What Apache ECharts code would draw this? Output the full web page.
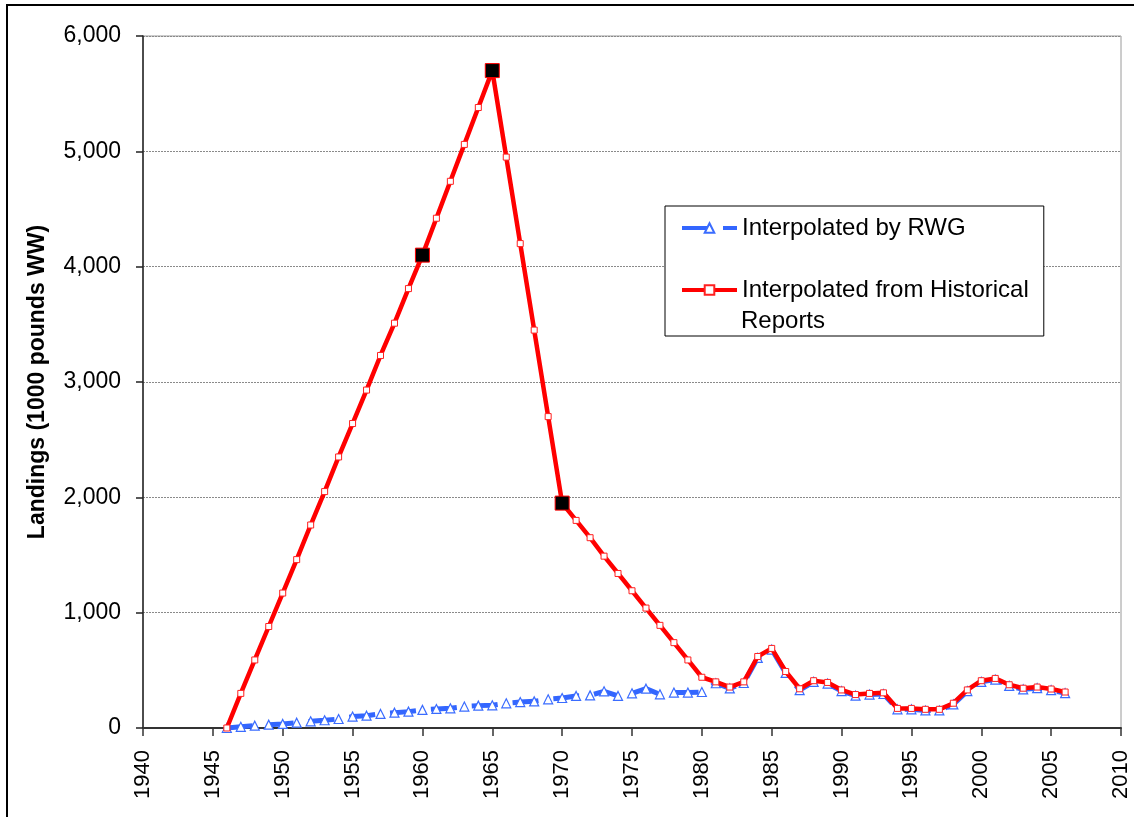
<!DOCTYPE html>
<html>
<head>
<meta charset="utf-8">
<script src="https://cdn.jsdelivr.net/npm/echarts@6/dist/echarts.min.js"></script>
<style>
  html, body { margin: 0; padding: 0; background: #fff; }
  #chart { width: 1134px; height: 817px; }
</style>
</head>
<body>
<div id="chart"></div>
<script>
// Landings by year, 1946-2006 (1000 pounds whole weight)
const years = [
  1946, 1947, 1948, 1949, 1950, 1951, 1952, 1953, 1954, 1955,
  1956, 1957, 1958, 1959, 1960, 1961, 1962, 1963, 1964, 1965,
  1966, 1967, 1968, 1969, 1970, 1971, 1972, 1973, 1974, 1975,
  1976, 1977, 1978, 1979, 1980, 1981, 1982, 1983, 1984, 1985,
  1986, 1987, 1988, 1989, 1990, 1991, 1992, 1993, 1994, 1995,
  1996, 1997, 1998, 1999, 2000, 2001, 2002, 2003, 2004, 2005,
  2006
];

const rwgValues = [
  0, 10, 20, 29, 35, 46, 58, 67, 78, 99,
  107, 122, 133, 142, 157, 165, 171, 186, 194, 197,
  214, 225, 231, 249, 260, 278, 283, 318, 278, 301,
  341, 292, 307, 307, 312, 388, 343, 390, 608, 680,
  478, 328, 400, 385, 320, 280, 290, 295, 162, 162,
  152, 152, 205, 320, 400, 420, 365, 335, 345, 328,
  302
];

const historicalValues = [
  0, 300, 590, 880, 1170, 1460, 1760, 2050, 2350, 2640,
  2930, 3230, 3510, 3810, 4100, 4420, 4740, 5060, 5380, 5700,
  4950, 4200, 3450, 2700, 1950, 1800, 1650, 1490, 1340, 1190,
  1040, 890, 740, 590, 440, 400, 355, 400, 620, 690,
  490, 340, 410, 395, 330, 290, 300, 305, 170, 170,
  162, 162, 215, 330, 410, 430, 375, 345, 355, 338,
  312
];

// Years taken directly from historical reports (anchor points)
const reportYears = [1960, 1965, 1970];

const seriesNames = ['Interpolated by RWG', 'Interpolated from Historical Reports'];

const rwgData = years.map((y, i) => [y, rwgValues[i]]);
const historicalData = years.map((y, i) => {
  if (reportYears.indexOf(y) >= 0) {
    return {
      value: [y, historicalValues[i]],
      symbolSize: 14,
      itemStyle: { color: '#000000', borderColor: '#ff0000', borderWidth: 1 }
    };
  }
  return [y, historicalValues[i]];
});

const FONT = 'Liberation Sans, Arial, sans-serif';

const chart = echarts.init(document.getElementById('chart'), null, { renderer: 'canvas' });

chart.setOption({
  animation: false,
  backgroundColor: '#ffffff',
  textStyle: { fontFamily: FONT },
  grid: {
    left: 143, right: 13, top: 36, bottom: 89,
    show: true, borderColor: '#9a9a9a', borderWidth: 1
  },
  legend: {
    orient: 'vertical',
    left: 665,
    top: 206,
    data: seriesNames,
    itemWidth: 55,
    itemHeight: 12,
    itemGap: 38,
    padding: [10, 15, 34, 15],
    borderColor: '#000000',
    borderWidth: 1,
    backgroundColor: '#ffffff',
    lineStyle: { width: 4 },
    textStyle: { fontSize: 24, color: '#000', fontFamily: FONT },
    formatter: function (name) {
      return name === seriesNames[1] ? 'Interpolated from Historical' : name;
    }
  },
  xAxis: {
    type: 'value',
    min: 1940,
    max: 2010,
    interval: 5,
    axisLine: { show: true, lineStyle: { color: '#333', width: 2 } },
    axisTick: { show: true, length: 8, lineStyle: { color: '#333', width: 1.5 } },
    splitLine: { show: false },
    axisLabel: {
      rotate: 90,
      margin: 22,
      fontSize: 22,
      color: '#000',
      formatter: function (v) { return String(v); }
    }
  },
  yAxis: {
    type: 'value',
    min: 0,
    max: 6000,
    interval: 1000,
    name: 'Landings (1000 pounds WW)',
    nameLocation: 'middle',
    nameGap: 94,
    nameTextStyle: { fontSize: 23, fontWeight: 'bold', color: '#000' },
    axisLine: { show: true, lineStyle: { color: '#222', width: 1.5 } },
    axisTick: { show: true, length: 7, lineStyle: { color: '#222', width: 1.5 } },
    splitLine: { show: true, lineStyle: { color: '#8a8a8a', width: 1, type: [2, 1] } },
    axisLabel: {
      margin: 22,
      fontSize: 23,
      color: '#000',
      formatter: function (v) { return v.toLocaleString('en-US'); }
    }
  },
  series: [
    {
      name: seriesNames[0],
      type: 'line',
      data: rwgData,
      symbol: 'triangle',
      symbolSize: 9,
      showAllSymbol: true,
      lineStyle: { color: '#3366ff', width: 5, type: [26, 15] },
      itemStyle: { color: '#ffffff', borderColor: '#3a6cff', borderWidth: 1.2 },
      z: 2
    },
    {
      name: seriesNames[1],
      type: 'line',
      data: historicalData,
      symbol: 'rect',
      symbolSize: 6,
      showAllSymbol: true,
      lineStyle: { color: '#ff0000', width: 4.5 },
      itemStyle: { color: '#ffffff', borderColor: '#ff2020', borderWidth: 1 },
      z: 3
    }
  ],
  graphic: [
    {
      type: 'rect',
      shape: { x: 7, y: 5, width: 1140, height: 840 },
      style: { fill: 'none', stroke: '#000', lineWidth: 2 },
      silent: true,
      z: 100
    },
    {
      type: 'text',
      left: 741,
      top: 309,
      style: {
        text: 'Reports',
        fontSize: 24,
        fill: '#000',
        fontFamily: FONT
      },
      z: 100
    }
  ]
});
</script>
</body>
</html>
